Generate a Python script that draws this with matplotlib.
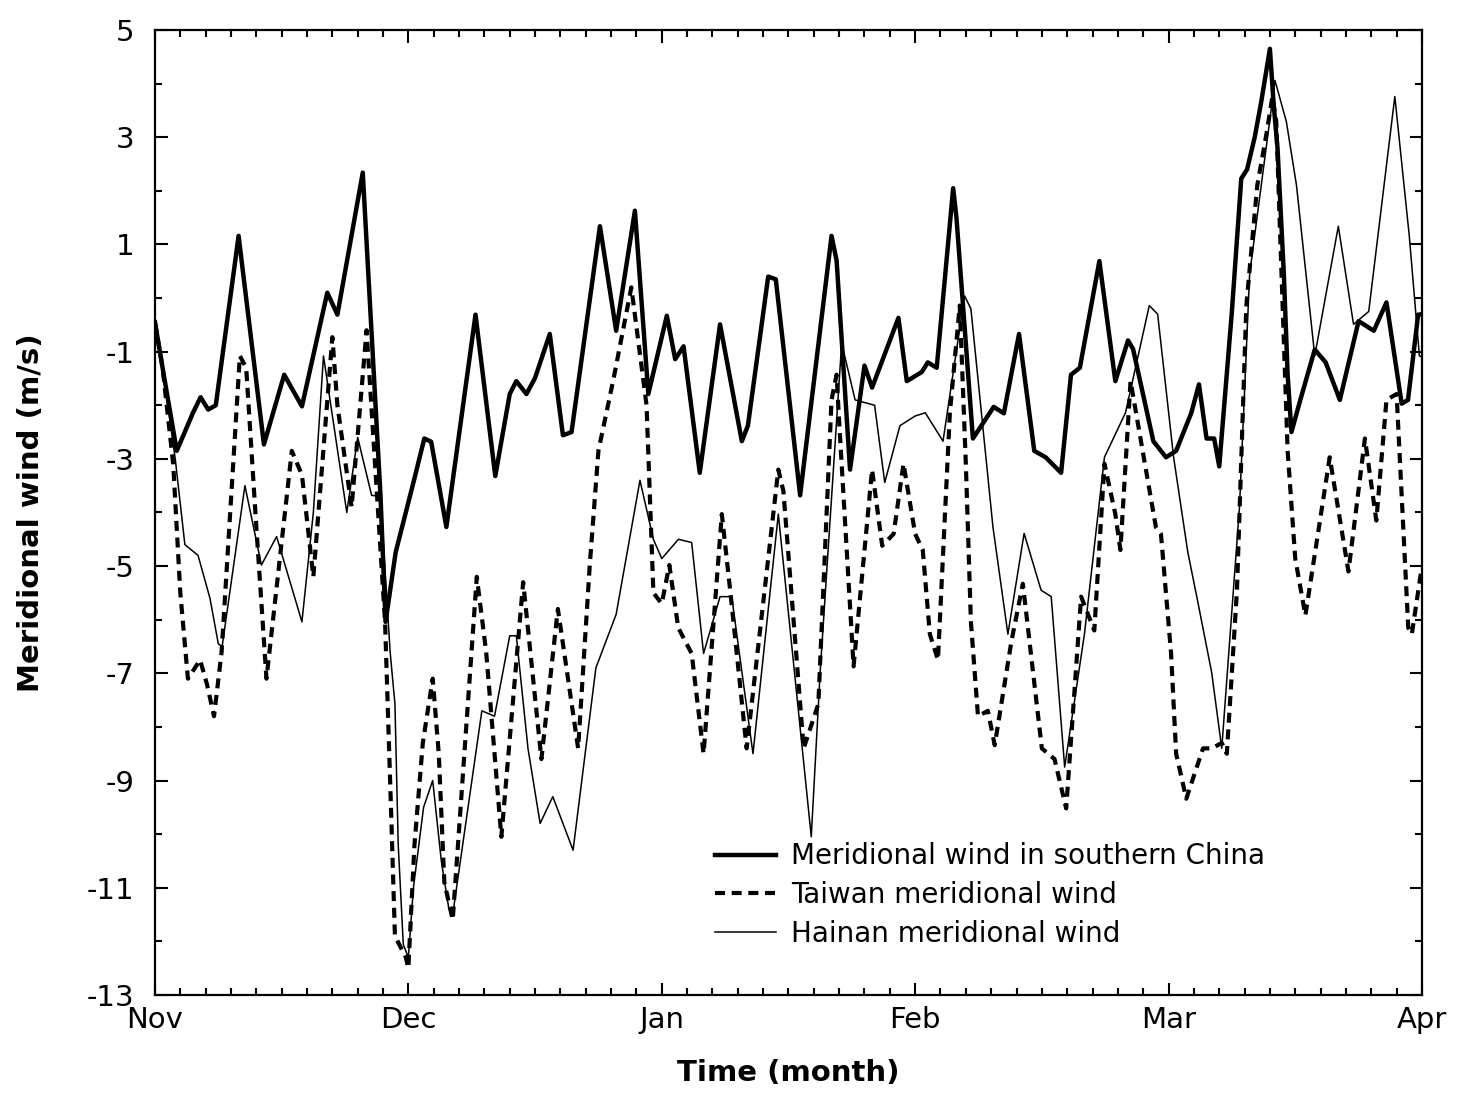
import numpy as np
import matplotlib
matplotlib.use('Agg')
import matplotlib.pyplot as plt
from matplotlib.ticker import MultipleLocator

# x in months since 1 Nov (0 = Nov, 5 = Apr)
months = ['Nov', 'Dec', 'Jan', 'Feb', 'Mar', 'Apr']

# Meridional wind in southern China
x_china = [0.0, 0.03, 0.086, 0.15, 0.18, 0.21, 0.24, 0.33, 0.43, 0.51, 0.58, 0.68, 0.72,
           0.82, 0.89, 0.91, 0.95, 1.02, 1.063, 1.09, 1.15, 1.265, 1.343, 1.40, 1.426,
           1.466, 1.50, 1.558, 1.61, 1.644, 1.756, 1.82, 1.894, 1.947, 2.02, 2.053,
           2.086, 2.15, 2.23, 2.316, 2.34, 2.42, 2.45, 2.546, 2.67, 2.69, 2.743, 2.80,
           2.83, 2.934, 2.967, 3.026, 3.05, 3.085, 3.15, 3.163, 3.228, 3.31, 3.35,
           3.41, 3.47, 3.515, 3.576, 3.615, 3.65, 3.727, 3.79, 3.84, 3.86, 3.94, 3.99,
           4.03, 4.09, 4.12, 4.15, 4.18, 4.2, 4.25, 4.287, 4.31, 4.34, 4.365, 4.40,
           4.415, 4.43, 4.455, 4.47, 4.485, 4.52, 4.577, 4.62, 4.676, 4.75, 4.81,
           4.86, 4.92, 4.945, 4.985, 5.0]
y_china = [-0.45, -1.3, -2.85, -2.14, -1.85, -2.08, -2.0, 1.16, -2.73, -1.43, -2.02, 0.1,
           -0.31, 2.34, -3.68, -6.04, -4.74, -3.44, -2.62, -2.68, -4.27, -0.31, -3.32,
           -1.79, -1.55, -1.79, -1.49, -0.67, -2.56, -2.5, 1.34, -0.61, 1.63, -1.79,
           -0.33, -1.14, -0.9, -3.26, -0.49, -2.67, -2.38, 0.40, 0.35, -3.68, 1.16, 0.7,
           -3.2, -1.26, -1.67, -0.37, -1.55, -1.38, -1.2, -1.3, 2.05, 1.5, -2.62, -2.03,
           -2.15, -0.67, -2.85, -2.97, -3.26, -1.43, -1.3, 0.69, -1.55, -0.79, -0.95,
           -2.67, -2.97, -2.85, -2.14, -1.61, -2.62, -2.62, -3.14, -0.25, 2.23, 2.4, 3.0,
           3.64, 4.65, 3.6, 2.8, 0.45, -1.43, -2.5, -1.9, -0.96, -1.2, -1.9, -0.43,
           -0.61, -0.08, -1.97, -1.9, -0.31, -0.3]

# Taiwan meridional wind
x_taiwan = [0.0, 0.03, 0.072, 0.10, 0.13, 0.178, 0.205, 0.233, 0.263, 0.335, 0.36, 0.40,
            0.44, 0.54, 0.58, 0.625, 0.70, 0.72, 0.776, 0.835, 0.908, 0.93, 0.947, 0.99,
            1.0, 1.024, 1.057, 1.096, 1.12, 1.142, 1.175, 1.27, 1.307, 1.367, 1.453,
            1.525, 1.59, 1.67, 1.716, 1.75, 1.81, 1.88, 1.94, 1.967, 2.0, 2.03, 2.065,
            2.118, 2.165, 2.237, 2.27, 2.335, 2.46, 2.48, 2.56, 2.618, 2.67, 2.69, 2.70,
            2.757, 2.83, 2.87, 2.915, 2.954, 3.0, 3.03, 3.058, 3.09, 3.137, 3.176, 3.20,
            3.22, 3.248, 3.287, 3.314, 3.38, 3.425, 3.50, 3.55, 3.596, 3.655, 3.707,
            3.747, 3.79, 3.81, 3.85, 3.95, 3.97, 4.01, 4.03, 4.07, 4.136, 4.17, 4.21,
            4.23, 4.27, 4.307, 4.35, 4.386, 4.41, 4.425, 4.47, 4.50, 4.54, 4.636, 4.71,
            4.775, 4.82, 4.86, 4.9, 4.946, 4.96, 5.0]
y_taiwan = [-0.45, -1.3, -3.1, -5.5, -7.1, -6.75, -7.2, -7.8, -6.6, -1.08, -1.3, -4.27,
            -7.1, -2.85, -3.3, -5.2, -0.73, -2.0, -3.9, -0.6, -6.04, -9.3, -11.9, -12.3,
            -12.5, -10.2, -8.3, -7.1, -8.5, -10.9, -11.6, -5.2, -6.6, -10.05, -5.3, -8.6,
            -5.8, -8.4, -4.97, -2.85, -1.5, 0.2, -2.0, -5.5, -5.7, -4.98, -6.15, -6.63,
            -8.5, -4.03, -5.45, -8.4, -3.2, -3.6, -8.4, -7.57, -1.9, -1.43, -2.3, -6.87,
            -3.2, -4.62, -4.4, -3.09, -4.4, -4.7, -6.27, -6.75, -2.14, -0.14, -3.09,
            -6.04, -7.8, -7.7, -8.34, -6.4, -5.33, -8.4, -8.6, -9.52, -5.57, -6.2, -3.09,
            -4.03, -4.7, -1.55, -4.27, -4.4, -6.63, -8.5, -9.34, -8.4, -8.4, -8.3, -8.5,
            -5.45, -0.14, 2.1, 3.05, 3.76, 3.3, -2.85, -4.86, -5.92, -2.97, -5.1, -2.62,
            -4.15, -1.9, -1.79, -6.15, -6.27, -5.0]

# Hainan meridional wind
x_hainan = [0.0, 0.03, 0.08, 0.118, 0.17, 0.217, 0.25, 0.265, 0.355, 0.42, 0.48, 0.58,
            0.625, 0.665, 0.757, 0.80, 0.855, 0.89, 0.928, 0.947, 0.96, 0.98, 1.0, 1.02,
            1.06, 1.096, 1.13, 1.16, 1.175, 1.29, 1.34, 1.40, 1.426, 1.472, 1.52, 1.57,
            1.65, 1.74, 1.82, 1.914, 1.967, 2.0, 2.066, 2.118, 2.165, 2.23, 2.276, 2.36,
            2.46, 2.59, 2.625, 2.71, 2.763, 2.84, 2.88, 2.94, 3.0, 3.04, 3.11, 3.195,
            3.22, 3.307, 3.366, 3.43, 3.497, 3.537, 3.59, 3.668, 3.747, 3.83, 3.924,
            3.957, 4.02, 4.076, 4.116, 4.17, 4.21, 4.28, 4.32, 4.42, 4.465, 4.505,
            4.577, 4.67, 4.73, 4.79, 4.893, 4.95, 4.99, 5.0]
y_hainan = [-0.45, -1.3, -3.0, -4.6, -4.8, -5.6, -6.45, -6.5, -3.5, -4.98, -4.45, -6.04,
            -4.0, -1.08, -4.0, -2.6, -3.68, -3.7, -6.6, -7.57, -10.2, -12.06, -12.3,
            -11.0, -9.5, -9.0, -10.5, -11.4, -11.5, -7.7, -7.8, -6.3, -6.3, -8.4, -9.8,
            -9.3, -10.3, -6.9, -5.9, -3.4, -4.5, -4.86, -4.5, -4.56, -6.63, -5.57,
            -5.57, -8.5, -4.03, -10.05, -6.98, -0.84, -1.9, -2.0, -3.44, -2.38, -2.2,
            -2.14, -2.67, 0.04, -0.2, -4.27, -6.27, -4.39, -5.45, -5.57, -8.75, -6.27,
            -2.97, -2.14, -0.14, -0.3, -2.97, -4.74, -5.68, -6.98, -8.4, -3.9, 0.45,
            4.06, 3.29, 2.1, -1.08, 1.34, -0.49, -0.25, 3.76, 1.16, -1.08, -1.1]

plt.rcParams['font.family'] = 'DejaVu Sans'
plt.rcParams['axes.unicode_minus'] = False

fig = plt.figure(figsize=(14.62, 11), dpi=100)
ax = fig.add_axes([0.106, 0.0955, 0.8666, 0.8772])

ax.plot(x_china, y_china, '-k', lw=3.2, label='Meridional wind in southern China')
ax.plot(x_taiwan, y_taiwan, '--k', lw=3.0, dashes=(2.4, 1.6), label='Taiwan meridional wind')
ax.plot(x_hainan, y_hainan, '-k', lw=1.1, label='Hainan meridional wind')

ax.set_xlim(0, 5)
ax.set_ylim(-13, 5)
ax.set_xticks(range(6))
ax.set_xticklabels(months)
ax.xaxis.set_minor_locator(MultipleLocator(0.1))
ax.set_yticks(np.arange(-13, 6, 2))
ax.yaxis.set_minor_locator(MultipleLocator(1))
ax.tick_params(which='both', direction='in', top=True, right=True, width=1.5,
               labelsize=21)
ax.tick_params(axis='x', which='major', pad=8)
ax.tick_params(axis='y', which='major', pad=15)
ax.tick_params(which='major', length=9)
ax.tick_params(which='minor', length=5)
for s in ax.spines.values():
    s.set_linewidth(1.6)

ax.set_xlabel('Time (month)', fontsize=21, fontweight='bold', labelpad=18)
ax.set_ylabel('Meridional wind (m/s)', fontsize=21, fontweight='bold', labelpad=30)

ax.legend(loc='upper left', bbox_to_anchor=(0.442, 0.158), frameon=False, fontsize=20,
          handlelength=2.2, handletextpad=0.55, labelspacing=0.38, borderpad=0,
          borderaxespad=0)

fig.savefig('out.png', dpi=100)
